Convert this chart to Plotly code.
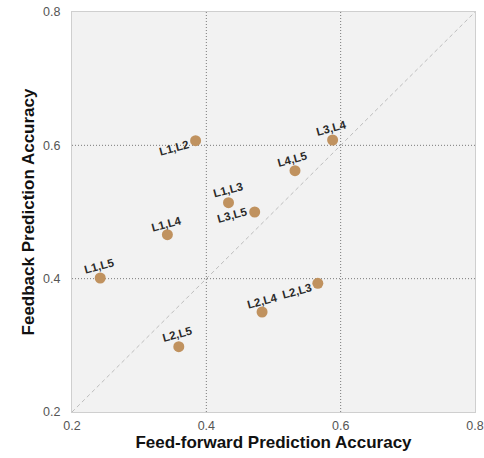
import plotly.graph_objects as go

# Layer-pair prediction accuracies
pairs = ["L1,L2", "L3,L4", "L4,L5", "L1,L3", "L3,L5",
         "L1,L4", "L1,L5", "L2,L3", "L2,L4", "L2,L5"]
feedforward_acc = [0.384, 0.588, 0.532, 0.433, 0.472,
                   0.342, 0.242, 0.566, 0.483, 0.359]
feedback_acc = [0.607, 0.608, 0.562, 0.514, 0.500,
                0.466, 0.401, 0.393, 0.350, 0.298]
axis_ticks = [0.2, 0.4, 0.6, 0.8]
inner_grid = [0.4, 0.6]

# label offsets in pixels (dx, dy) relative to each point
label_offsets = {
    "L1,L2": (-22, -7), "L3,L4": (-1, 12), "L4,L5": (-2, 12),
    "L1,L3": (-1, 13), "L3,L5": (-22, -3), "L1,L4": (-1, 11),
    "L1,L5": (-1, 12), "L2,L3": (-21, -8), "L2,L4": (0, 11),
    "L2,L5": (-1, 13),
}

fig = go.Figure()

fig.add_trace(go.Scatter(
    x=feedforward_acc, y=feedback_acc, mode="markers",
    marker=dict(size=11, color="#C0925F", line=dict(width=0)),
    hovertext=pairs, showlegend=False,
))

grid_line = dict(color="#7a7a7a", width=1, dash="1px,2px")
shapes = []
for g in inner_grid:
    shapes.append(dict(type="line", xref="x", yref="y", x0=g, x1=g,
                       y0=axis_ticks[0], y1=axis_ticks[-1],
                       line=grid_line, layer="below"))
    shapes.append(dict(type="line", xref="x", yref="y", y0=g, y1=g,
                       x0=axis_ticks[0], x1=axis_ticks[-1],
                       line=grid_line, layer="below"))
# identity line
shapes.append(dict(type="line", xref="x", yref="y",
                   x0=axis_ticks[0], y0=axis_ticks[0], x1=axis_ticks[-1], y1=axis_ticks[-1],
                   line=dict(color="#bdbdbd", width=1, dash="4px,3px"), layer="below"))

annotations = []
for name, xv, yv in zip(pairs, feedforward_acc, feedback_acc):
    dx, dy = label_offsets[name]
    annotations.append(dict(
        x=xv, y=yv, xref="x", yref="y", text="<b>" + name + "</b>",
        showarrow=False, textangle=-15, xshift=dx, yshift=dy,
        font=dict(family="Liberation Sans, Arial", size=11.5, color="#2a2a2a"),
    ))

axis_common = dict(
    range=[axis_ticks[0], axis_ticks[-1]], tickvals=axis_ticks,
    ticktext=[f"{t:.1f}" for t in axis_ticks],
    showgrid=False, zeroline=False, showline=True, mirror=True,
    linecolor="#cfcfcf", linewidth=1, ticks="", automargin=False,
    tickfont=dict(family="Liberation Sans, Arial", size=12.5, color="#555555"),
)

fig.update_layout(
    width=484, height=458,
    margin=dict(l=72, r=9, t=12, b=46),
    paper_bgcolor="white", plot_bgcolor="#f2f2f2",
    shapes=shapes, annotations=annotations,
    xaxis=dict(**axis_common, ticklabelstandoff=2,
               title=dict(text="<b>Feed-forward Prediction Accuracy</b>", standoff=2,
                          font=dict(family="Liberation Sans, Arial", size=17, color="#111"))),
    yaxis=dict(**axis_common, ticklabelstandoff=8,
               title=dict(text="<b>Feedback Prediction Accuracy</b>", standoff=4,
                          font=dict(family="Liberation Sans, Arial", size=17, color="#111"))),
)

fig.write_html("out.html")
